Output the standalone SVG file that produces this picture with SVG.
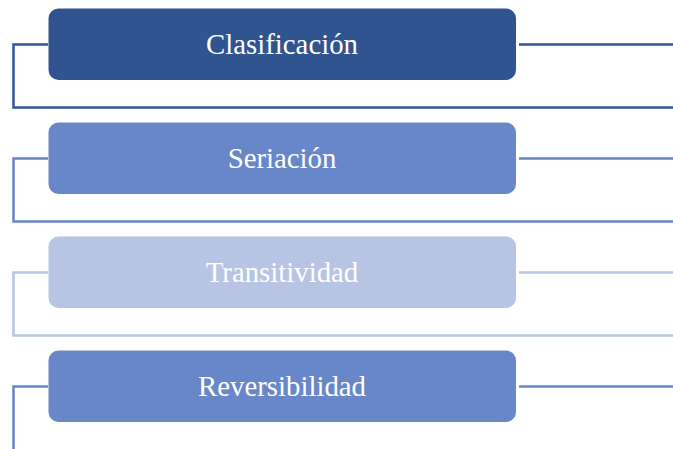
<svg xmlns="http://www.w3.org/2000/svg" width="673" height="449" viewBox="0 0 673 449">
<style>
.t{font-family:"Liberation Serif","Times New Roman",serif;font-size:28.8px;fill:#fff;text-anchor:middle}
.c{fill:none;stroke-width:2.5}
</style>
<rect width="673" height="449" fill="#fff"/>
<g id="connectors">
<path class="c" stroke="#2F5597" d="M48 44.5H13.5V107.5H673M519 44.5H673"/>
<path class="c" stroke="#6787C8" d="M48 158.5H13.5V221.5H673M519 158.5H673"/>
<path class="c" stroke="#B7C4E4" d="M48 272.5H13.5V335.5H673M519 272.5H673"/>
<path class="c" stroke="#6787C8" d="M48 386.5H13.5V449M519 386.5H673"/>
</g>
<g id="n1"><rect x="48.5" y="8.5" width="467.5" height="71.5" rx="10" fill="#2F5490"/><text class="t" x="282" y="53.5">Clasificación</text></g>
<g id="n2"><rect x="48.5" y="122.5" width="467.5" height="71.5" rx="10" fill="#6787C8"/><text class="t" x="282" y="167.5">Seriación</text></g>
<g id="n3"><rect x="48.5" y="236.5" width="467.5" height="71.5" rx="10" fill="#B7C4E4"/><text class="t" x="282" y="281.5">Transitividad</text></g>
<g id="n4"><rect x="48.5" y="350.5" width="467.5" height="71.5" rx="10" fill="#6787C8"/><text class="t" x="282" y="395.5">Reversibilidad</text></g>
</svg>
